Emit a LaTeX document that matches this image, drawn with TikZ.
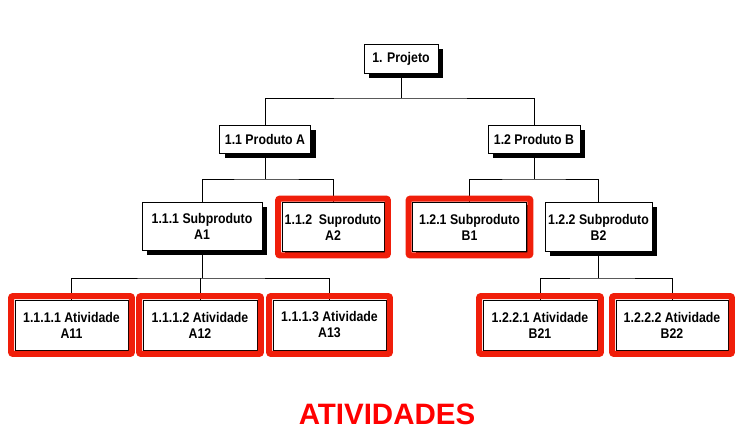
\documentclass[tikz,border=0pt]{standalone}
\usepackage{fontspec}
\setmainfont{Liberation Sans}
\newfontfamily\boxfamily[FakeStretch=0.88]{Liberation Sans}
\usetikzlibrary{calc,shadows}
\definecolor{frameRed}{RGB}{240,30,10}
\definecolor{titleRed}{RGB}{255,0,0}
\tikzset{
  wbs/.style={draw=black, line width=0.9pt, fill=white, align=center,
    inner sep=0pt, font=\boxfamily\bfseries\fontsize{14}{16}\selectfont,
    general shadow={fill=black, shadow xshift=5pt, shadow yshift=-5pt}},
  wbsred/.style={wbs, general shadow={fill=black, shadow xshift=3pt, shadow yshift=-3pt}},
  conn/.style={draw=black, line width=0.8pt},
  redframe/.style={draw=frameRed, line width=6pt, rounded corners=2pt},
  title/.style={font=\bfseries\fontsize{29.5}{31}\selectfont, text=titleRed, inner sep=0pt}
}
\newcommand{\frameit}[1]{\draw[redframe] ($(#1.north west)+(-3.5,-3.5)$) rectangle ($(#1.south east)+(3.5,3.5)$);}
\begin{document}
\begin{tikzpicture}[x=1pt,y=-1pt]
\useasboundingbox[fill=white] (0,0) rectangle (756,438);
\coordinate (bus0) at (0,98);
\coordinate (busA) at (0,179);
\coordinate (busB) at (0,179);
\coordinate (busA1) at (0,278);
\coordinate (busB2) at (0,278);

\node[wbs, minimum width=74pt, minimum height=29pt] (P) at (401,59) {1. Projeto};
\node[wbs, minimum width=91pt, minimum height=28pt] (PA) at (265,139) {1.1 Produto A};
\node[wbs, minimum width=92pt, minimum height=28pt] (PB) at (534,139) {1.2 Produto B};

\node[wbs, minimum width=120pt, minimum height=48pt] (A1) at (202,226) {1.1.1 Subproduto\\A1};
\node[wbsred, minimum width=102pt, minimum height=49pt] (A2) at (333,227) {1.1.2\ \ Suproduto\\A2};
\node[wbsred, minimum width=114pt, minimum height=49pt] (B1) at (469.5,227) {1.2.1 Subproduto\\B1};
\node[wbs, minimum width=107pt, minimum height=49pt] (B2) at (598.5,227) {1.2.2 Subproduto\\B2};

\node[wbsred, minimum width=113pt, minimum height=50pt] (A11) at (71.5,325) {1.1.1.1 Atividade\\A11};
\node[wbsred, minimum width=114pt, minimum height=50pt] (A12) at (200,325) {1.1.1.2 Atividade\\A12};
\node[wbsred, minimum width=113pt, minimum height=50pt] (A13) at (329.5,325) {1.1.1.3 Atividade\\A13};
\node[wbsred, minimum width=114pt, minimum height=50pt] (B21) at (540,325) {1.2.2.1 Atividade\\B21};
\node[wbsred, minimum width=112pt, minimum height=50pt] (B22) at (672,325) {1.2.2.2 Atividade\\B22};

% connectors
\draw[conn] (P.south) -- (P.south |- bus0);
\draw[conn] (PA.north) |- (bus0 -| P.south) -| (PB.north);
\draw[conn] (PA.south) -- (PA.south |- busA);
\draw[conn] (A1.north) |- (busA -| PA.south) -| (A2.north);
\draw[conn] (PB.south) -- (PB.south |- busB);
\draw[conn] (B1.north) |- (busB -| PB.south) -| (B2.north);
\draw[conn] (A1.south) -- (A1.south |- busA1);
\draw[conn] (A11.north) |- (busA1 -| A1.south) -| (A13.north);
\draw[conn] (A12.north) -- (A12.north |- busA1);
\draw[conn] (B2.south) -- (B2.south |- busB2);
\draw[conn] (B21.north) |- (busB2 -| B2.south) -| (B22.north);

% red frames
\frameit{A2}
\frameit{B1}
\frameit{A11}
\frameit{A12}
\frameit{A13}
\frameit{B21}
\frameit{B22}

\node[title] (T) at (387,414) {ATIVIDADES};
\end{tikzpicture}
\end{document}
